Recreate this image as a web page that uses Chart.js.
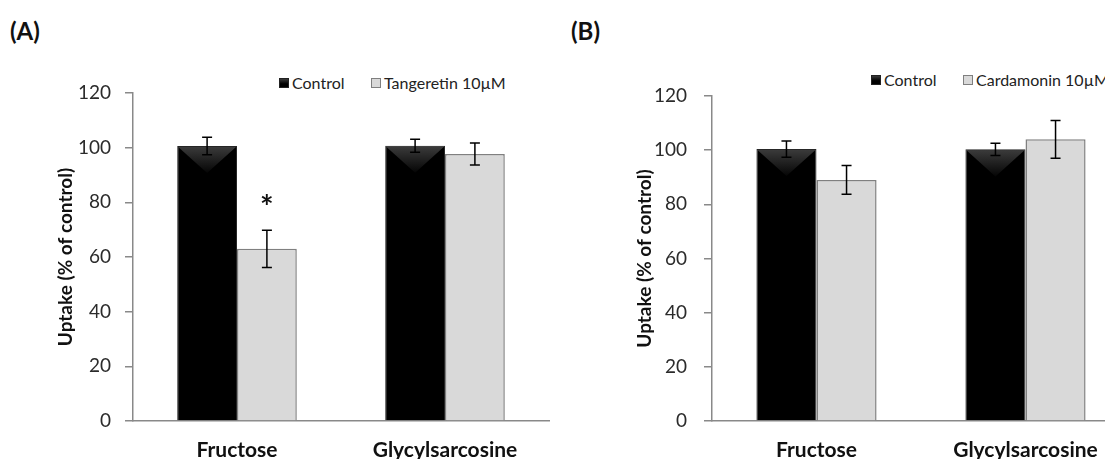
<!DOCTYPE html>
<html>
<head>
<meta charset="utf-8">
<script src="https://cdn.jsdelivr.net/npm/chart.js@4"></script>
<style>
  body { margin: 0; width: 1105px; height: 459px; overflow: hidden; background: #fff; position: relative; font-family: Lato, 'Open Sans', sans-serif; }
  canvas { position: absolute; top: 0; }
  .tag { position: absolute; top: 17px; font-weight: bold; font-size: 24px; line-height: 28px; color: #111; }
  .item { position: absolute; height: 16px; line-height: 16px; font-size: 16px; color: #222; white-space: nowrap; display: flex; align-items: center; }
  .box { display: inline-block; width: 10px; height: 10px; margin-right: 3px; box-sizing: border-box; }
  .dark { background: linear-gradient(#3a3a3a, #000 60%); border: 1px solid #222; }
  .light { background: #d9d9d9; border: 1px solid #7f7f7f; }
</style>
</head>
<body>
<div class="tag" style="left:10px">(A)</div>
<div class="tag" style="left:571px">(B)</div>

<div class="item" style="left:279px; top:75px"><span class="box dark"></span>Control</div>
<div class="item" style="left:371px; top:75px"><span class="box light"></span>Tangeretin 10µM</div>
<div class="item" style="left:871px; top:72px"><span class="box dark"></span>Control</div>
<div class="item" style="left:963px; top:72px"><span class="box light"></span>Cardamonin 10µM</div>

<canvas id="chartA" width="552" height="459" style="left:0px"></canvas>
<canvas id="chartB" width="573" height="459" style="left:560px"></canvas>

<script>
const categories = ['Fructose', 'Glycylsarcosine'];

// panel A
const controlA = [100.6, 100.7];
const controlErrA = [3.2, 2.4];
const tangeretin = [63, 97.7];
const tangeretinErr = [6.8, 4];

// panel B
const controlB = [100.4, 100.3];
const controlErrB = [3, 2.3];
const cardamonin = [89, 104];
const cardamoninErr = [5.3, 7];

// significance mark over tangeretin / fructose
const starA = { index: 0, value: 80, text: '*' };

const axisGray = '#898989';

// darker "bevel" triangle at the top of the black bars
const bevel = {
  id: 'bevel',
  afterDatasetDraw(chart, args) {
    if (args.index !== 0) return;
    const ctx = chart.ctx;
    args.meta.data.forEach(bar => {
      const p = bar.getProps(['x', 'y', 'width', 'base'], true);
      const half = p.width / 2;
      const depth = Math.min(p.width * 0.45, (p.base - p.y) / 2);
      const g = ctx.createLinearGradient(0, p.y, 0, p.y + depth);
      g.addColorStop(0, '#3c3c3c');
      g.addColorStop(1, '#050505');
      ctx.save();
      ctx.fillStyle = g;
      ctx.beginPath();
      ctx.moveTo(p.x - half + 1, p.y + 1);
      ctx.lineTo(p.x + half - 1, p.y + 1);
      ctx.lineTo(p.x, p.y + depth);
      ctx.closePath();
      ctx.fill();
      ctx.restore();
    });
  }
};

const errorBars = {
  id: 'errorBars',
  afterDatasetsDraw(chart) {
    const ctx = chart.ctx;
    const y = chart.scales.y;
    ctx.save();
    ctx.strokeStyle = '#000';
    ctx.lineWidth = 1.5;
    chart.data.datasets.forEach((ds, i) => {
      chart.getDatasetMeta(i).data.forEach((bar, j) => {
        const top = y.getPixelForValue(ds.data[j] + ds.errors[j]);
        const bot = y.getPixelForValue(ds.data[j] - ds.errors[j]);
        const x = bar.x;
        ctx.beginPath();
        ctx.moveTo(x, top); ctx.lineTo(x, bot);
        ctx.moveTo(x - 5, top); ctx.lineTo(x + 5, top);
        ctx.moveTo(x - 5, bot); ctx.lineTo(x + 5, bot);
        ctx.stroke();
      });
    });
    ctx.restore();
  }
};

const starMark = {
  id: 'star',
  afterDatasetsDraw(chart, args, opts) {
    if (!opts || opts.text === undefined) return;
    const bar = chart.getDatasetMeta(1).data[opts.index];
    const ctx = chart.ctx;
    ctx.save();
    ctx.fillStyle = '#111';
    ctx.font = 'bold 32px Lato';
    ctx.textAlign = 'center';
    ctx.textBaseline = 'middle';
    ctx.fillText(opts.text, bar.x, chart.scales.y.getPixelForValue(opts.value) + 6);
    ctx.restore();
  }
};

function makeChart(id, cfg) {
  return new Chart(document.getElementById(id), {
    type: 'bar',
    data: {
      labels: categories,
      datasets: [
        { label: 'Control', data: cfg.first, errors: cfg.firstErr,
          backgroundColor: '#000', borderColor: '#262626', borderWidth: 1 },
        { label: cfg.name, data: cfg.second, errors: cfg.secondErr,
          backgroundColor: '#d9d9d9', borderColor: '#808080', borderWidth: 1.5 }
      ]
    },
    options: {
      responsive: false,
      animation: false,
      layout: { padding: { top: cfg.top, right: 3, left: 0, bottom: 0 } },
      datasets: { bar: { categoryPercentage: 0.575, barPercentage: 1 } },
      scales: {
        x: {
          grid: { display: false, drawTicks: false },
          border: { color: axisGray, width: 1.5 },
          ticks: { color: '#111', font: { family: 'Lato', size: 21, weight: 'bold' }, padding: 17, maxRotation: 0, autoSkip: false },
          afterFit: s => { s.height = 38; }
        },
        y: {
          min: 0, max: 120,
          grid: { drawOnChartArea: false, drawTicks: true, tickLength: 8, color: axisGray, lineWidth: 1.5 },
          border: { color: axisGray, width: 1.5 },
          ticks: { stepSize: 20, color: '#2b2b2b', font: { family: 'Lato', size: 19 }, padding: cfg.tickPad },
          title: { display: true, text: 'Uptake (% of control)', color: '#111',
                   font: { family: 'Lato', size: 19, weight: 'bold' }, padding: { top: cfg.titlePad, bottom: 0 } },
          afterFit: s => { s.width = cfg.yWidth; }
        }
      },
      plugins: { legend: { display: false }, tooltip: { enabled: false }, star: cfg.star || {} }
    },
    plugins: [bevel, errorBars, starMark]
  });
}

makeChart('chartA', {
  name: 'Tangeretin 10µM', first: controlA, firstErr: controlErrA,
  second: tangeretin, secondErr: tangeretinErr,
  top: 93, yWidth: 133, tickPad: 14, titlePad: 54, star: starA
});

makeChart('chartB', {
  name: 'Cardamonin 10µM', first: controlB, firstErr: controlErrB,
  second: cardamonin, secondErr: cardamoninErr,
  top: 96, yWidth: 152, tickPad: 17, titlePad: 73
});
</script>
</body>
</html>
